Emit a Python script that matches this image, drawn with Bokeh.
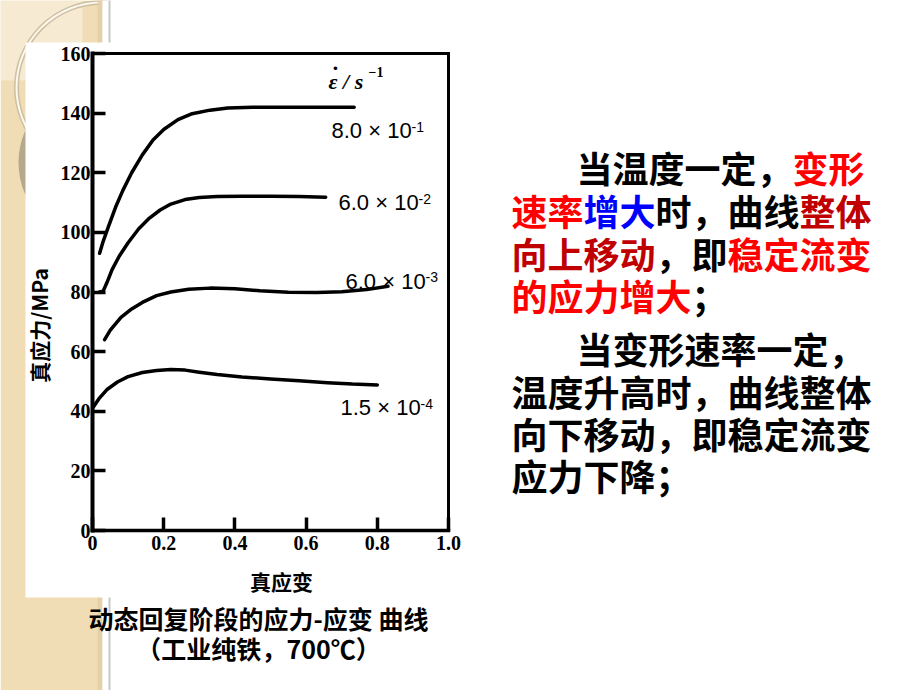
import math
from bokeh.plotting import figure
from bokeh.models import Range1d, LinearAxis, FixedTicker, CustomJSTickFormatter
from bokeh.core.properties import value
from bokeh.embed import file_html
from bokeh.resources import INLINE

# ---------------- data ----------------
x_ticks = [0, 0.2, 0.4, 0.6, 0.8, 1.0]
y_ticks = [0, 20, 40, 60, 80, 100, 120, 140, 160]

rate_mantissa = ["8.0", "6.0", "6.0", "1.5"]
rate_exponent = ["-1", "-2", "-3", "-4"]

strain_r1 = [0.020, 0.030, 0.045, 0.065, 0.085, 0.110, 0.140, 0.170, 0.200, 0.240, 0.280, 0.330, 0.380, 0.450, 0.550, 0.650, 0.735]
stress_r1 = [93.0, 97.0, 102.0, 108.5, 114.0, 120.0, 126.0, 131.0, 134.5, 137.8, 139.8, 141.0, 141.7, 142.0, 142.0, 142.0, 142.0]

strain_r2 = [0.020, 0.030, 0.040, 0.055, 0.075, 0.100, 0.130, 0.160, 0.190, 0.220, 0.260, 0.300, 0.350, 0.420, 0.500, 0.580, 0.655]
stress_r2 = [80.0, 80.3, 83.0, 87.5, 92.0, 96.5, 101.2, 104.8, 107.5, 109.5, 111.0, 111.7, 112.0, 112.1, 112.1, 112.0, 111.8]

strain_r3 = [0.034, 0.050, 0.080, 0.110, 0.140, 0.180, 0.220, 0.270, 0.330, 0.400, 0.470, 0.550, 0.630, 0.700, 0.770, 0.830]
stress_r3 = [64.0, 67.2, 71.5, 74.3, 76.5, 78.8, 80.0, 80.9, 81.3, 81.1, 80.4, 79.9, 79.8, 80.1, 80.8, 81.9]

strain_r4 = [0.003, 0.020, 0.040, 0.070, 0.100, 0.140, 0.180, 0.220, 0.260, 0.300, 0.350, 0.420, 0.500, 0.580, 0.660, 0.730, 0.800]
stress_r4 = [41.5, 44.5, 47.2, 49.8, 51.6, 53.0, 53.7, 54.0, 53.8, 53.1, 52.3, 51.5, 50.8, 50.2, 49.6, 49.1, 48.8]

curves = [(strain_r1, stress_r1), (strain_r2, stress_r2), (strain_r3, stress_r3), (strain_r4, stress_r4)]

x_title = "真应变"
y_title = "真应力/MPa"
caption_lines = ["动态回复阶段的应力-应变 曲线", "（工业纯铁，700℃）"]

BLACK, RED, BLUE, DRED = "#000000", "#FF0000", "#0000FF", "#C00000"
para_lines = [
    [("当温度一定，", BLACK), ("变形", RED)],
    [("速率", RED), ("增大", BLUE), ("时，曲线", BLACK), ("整体", DRED)],
    [("向上移动", DRED), ("，即", BLACK), ("稳定流变", RED)],
    [("的应力增大", RED), ("；", BLACK)],
    [("当变形速率一定，", BLACK)],
    [("温度升高时，曲线整体", BLACK)],
    [("向下移动，即稳定流变", BLACK)],
    [("应力下降；", BLACK)],
]

# ---------------- layout (pixels) ----------------
W, H = 920, 690
PX_X0, PX_X1 = 92, 448      # pixel x of strain 0 and 1.0
PX_Y0, PX_Y1 = 530, 53      # pixel y of stress 0 and 160
KX = (PX_X1 - PX_X0) / (x_ticks[-1] - x_ticks[0])
KY = (PX_Y0 - PX_Y1) / (y_ticks[-1] - y_ticks[0])


def dx(px):
    return (px - PX_X0) / KX


def dy(py):
    return (PX_Y0 - py) / KY


p = figure(width=W, height=H, title=None,
           x_range=Range1d(dx(0), dx(W)), y_range=Range1d(dy(H), dy(0)),
           output_backend="svg", toolbar_location=None,
           x_axis_location=None, y_axis_location=None,
           min_border=0, outline_line_color=None,
           background_fill_color="white", border_fill_color="white")
p.grid.visible = False


def rect(l, t, r, b, color):
    p.quad(left=[dx(l)], right=[dx(r)], top=[dy(t)], bottom=[dy(b)],
           fill_color=color, line_color=None)


def txt(px, py, s, font, size, color="black", style="normal", align="left",
        baseline="middle", angle=0.0):
    p.text(x=[dx(px)], y=[dy(py)], text=[s], text_font=value(font),
           text_font_size=value(f"{size}px"), text_font_style=style,
           text_color=color, text_align=align, text_baseline=baseline, angle=angle)


# ---- slide decoration ----
rect(0, 0, 102, H, "#F1DDB5")
rect(0, 0, 82, 80, "#F6EAD2")
p.scatter(x=[dx(97)], y=[dy(162)], size=158, marker="circle",
          fill_color="#B5A98D", line_color=None)
p.scatter(x=[dx(101)], y=[dy(87)], size=170, marker="circle",
          fill_color=None, line_color="#CDBF9F", line_width=5)
p.scatter(x=[dx(101)], y=[dy(87)], size=170, marker="circle",
          fill_color=None, line_color="#FCF8F0", line_width=2)
rect(97, 0, 102, H, "#E4D1A8")
rect(102, 0, W, H, "#FFFFFF")
rect(108, 0, 110, H, "#C8C8C8")
# white picture panel
rect(25, 42, 485, 597, "#FFFFFF")

# ---- curves ----
for xs, ys in curves:
    p.line(xs, ys, line_color="black", line_width=3.5, line_join="round", line_cap="round")

# ---- curve labels ----
label_left = [331, 338, 345, 340]
label_cy = [130, 202, 280.5, 407]
for m, e, lx, ly in zip(rate_mantissa, rate_exponent, label_left, label_cy):
    txt(lx, ly, f"{m} × 10", "Liberation Sans", 22)
    txt(lx + 80, ly - 4, e, "Liberation Sans", 14)

txt(328, 81, "ε / s", "Liberation Serif", 22, style="bold italic")
txt(335, 67, "·", "Liberation Serif", 22, style="bold", align="center")
txt(368, 71, "−1", "Liberation Serif", 14, style="bold")

# ---- axes ----
axis_common = dict(axis_line_color="black", axis_line_cap="square",
                   major_tick_in=13, major_tick_out=0, major_tick_line_width=3.5,
                   major_tick_line_color="black", minor_tick_line_color=None,
                   major_label_text_font="Liberation Serif",
                   major_label_text_font_size="20px",
                   major_label_text_font_style="bold",
                   major_label_text_color="black")

xaxis = LinearAxis(fixed_location=y_ticks[0], bounds=(x_ticks[0], x_ticks[-1]),
                   ticker=FixedTicker(ticks=x_ticks),
                   formatter=CustomJSTickFormatter(code="return tick == 0 ? '0' : tick.toFixed(1);"),
                   major_label_standoff=5, axis_line_width=3.5, **axis_common)
p.add_layout(xaxis, "below")

yaxis = LinearAxis(fixed_location=x_ticks[0], bounds=(y_ticks[0], y_ticks[-1]),
                   ticker=FixedTicker(ticks=y_ticks), major_label_standoff=2,
                   axis_line_width=4, **axis_common)
p.add_layout(yaxis, "left")

spine_style = dict(axis_line_width=3, axis_line_color="black", axis_line_cap="square",
                   major_tick_line_color=None, minor_tick_line_color=None,
                   major_label_text_font_size="0px", ticker=FixedTicker(ticks=[]))
top_spine = LinearAxis(fixed_location=y_ticks[-1], bounds=(x_ticks[0], x_ticks[-1]), **spine_style)
p.add_layout(top_spine, "above")
right_spine = LinearAxis(fixed_location=x_ticks[-1], bounds=(y_ticks[0], y_ticks[-1]), **spine_style)
p.add_layout(right_spine, "right")

# ---- axis titles ----
txt(281, 580, x_title, "Noto Sans CJK SC", 21, style="bold", align="center")
txt(38, 325, y_title, "Noto Sans CJK SC", 21, style="bold", align="center", angle=math.pi / 2)

# ---- caption ----
txt(258, 617, caption_lines[0], "Noto Sans CJK SC", 25, style="bold", align="center")
txt(258, 647, caption_lines[1], "Noto Sans CJK SC", 25, style="bold", align="center")

# ---- right paragraph ----
FS = 36
line_y = [166, 209, 252, 294, 347, 390, 432, 474]
line_x0 = [576, 511, 511, 511, 576, 511, 511, 511]
for segs, ly, lx in zip(para_lines, line_y, line_x0):
    n = 0
    for s, c in segs:
        txt(lx + n * FS, ly, s, "Noto Sans CJK SC", FS, color=c, style="bold")
        n += len(s)

open("out.html", "w").write(file_html(p, INLINE))
